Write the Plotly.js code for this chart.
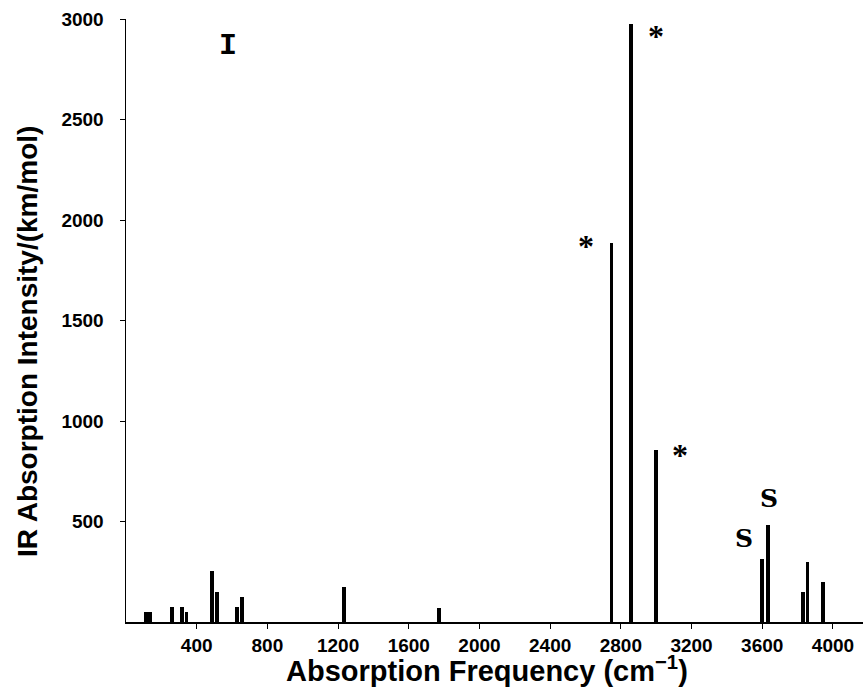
<!DOCTYPE html>
<html>
<head>
<meta charset="utf-8">
<script src="https://cdn.plot.ly/plotly-3.0.1.min.js"></script>
<style>html,body{margin:0;padding:0;background:#fff;}#chart{width:868px;height:691px;}</style>
</head>
<body>
<div id="chart"></div>
<script>
var frequencies = [113, 138, 258, 315, 342, 489, 514, 629, 658, 1233, 1773, 2747, 2858, 2998, 3600, 3630, 3831, 3856, 3942];
var intensities = [50, 50, 75, 75, 50, 252, 151, 73, 126, 176, 71, 1885, 2975, 858, 313, 485, 148, 299, 198];
var xTickValues = [400, 800, 1200, 1600, 2000, 2400, 2800, 3200, 3600, 4000];
var yTickValues = [500, 1000, 1500, 2000, 2500, 3000];
var markLabels = ["I", "*", "*", "*", "S", "S"];
var markX = [577, 2999, 2605, 3134, 3640, 3495];
var markY = [2866, 2925, 1881, 841, 613, 415];
var xTitle = 'Absorption Frequency (cm<sup>\u22121</sup>)';
var yTitle = 'IR Absorption Intensity/(km/mol)';

var trace = {
  type: 'bar',
  x: frequencies,
  y: intensities,
  width: frequencies.map(function(){return 22;}),
  marker: {color: '#000', line: {width: 0}},
  hoverinfo: 'x+y'
};

var annotations = markLabels.map(function(t, i){
  var isStar = t === '*';
  var fam = isStar ? 'Liberation Serif' : (t === 'I' ? 'Liberation Mono' : 'DejaVu Serif');
  var sz = isStar ? 32 : (t === 'I' ? 30 : 25);
  return {
    x: markX[i], y: markY[i], xref: 'x', yref: 'y',
    text: t, showarrow: false,
    xanchor: 'center', yanchor: 'middle',
    yshift: isStar ? -2 : 0,
    font: {family: fam, size: sz, color: '#000', weight: 'bold'}
  };
});

annotations.push({
  xref: 'paper', yref: 'paper', x: 0.4898, y: 0, yshift: -47,
  xanchor: 'center', yanchor: 'middle', showarrow: false,
  text: xTitle,
  font: {family: 'Liberation Sans', size: 29, color: '#000', weight: 'bold'}
});
annotations.push({
  xref: 'paper', yref: 'paper', x: 0, xshift: -99, y: 0.4643,
  xanchor: 'center', yanchor: 'middle', showarrow: false, textangle: -90,
  text: yTitle,
  font: {family: 'Liberation Sans', size: 28, color: '#000', weight: 'bold'}
});

var layout = {
  width: 868, height: 691,
  margin: {l: 126, r: 5, t: 19, b: 69},
  paper_bgcolor: '#fff', plot_bgcolor: '#fff',
  showlegend: false,
  bargap: 0,
  font: {family: 'Liberation Sans', color: '#000'},
  xaxis: {
    range: [0, 4170],
    tickvals: xTickValues,
    ticktext: xTickValues.map(String),
    ticks: 'outside', ticklen: 5, tickwidth: 1, tickcolor: '#000',
    ticklabelstandoff: 1,
    showline: true, linecolor: '#000', linewidth: 1.5,
    showgrid: false, zeroline: false,
    tickfont: {family: 'Liberation Sans', size: 19, color: '#000', weight: 'bold'}
  },
  yaxis: {
    range: [0, 3000],
    tickvals: yTickValues,
    ticktext: yTickValues.map(String),
    ticks: 'outside', ticklen: 5, tickwidth: 1, tickcolor: '#000',
    ticklabelstandoff: 12,
    showline: true, linecolor: '#000', linewidth: 1.5,
    showgrid: false, zeroline: false,
    tickfont: {family: 'Liberation Sans', size: 19, color: '#000', weight: 'bold'}
  },
  annotations: annotations
};

Plotly.newPlot('chart', [trace], layout, {displayModeBar: false, staticPlot: true});
</script>
</body>
</html>
